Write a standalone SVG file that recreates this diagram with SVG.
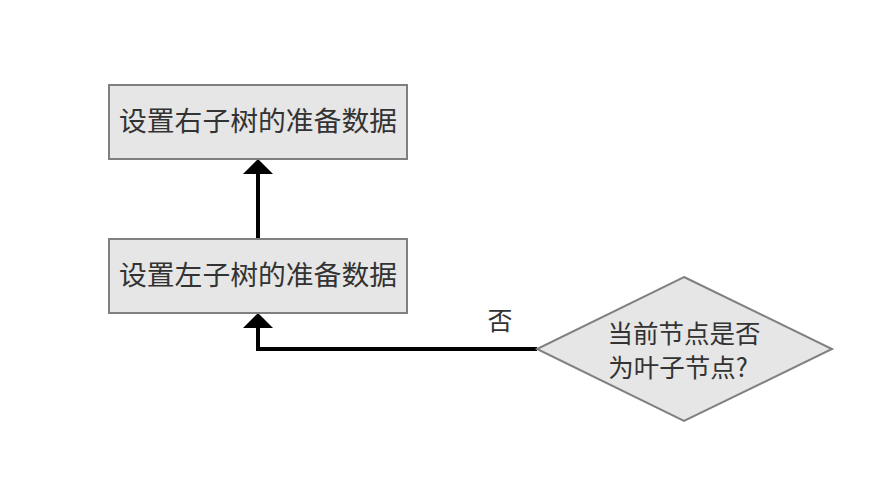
<svg xmlns="http://www.w3.org/2000/svg" width="894" height="482" viewBox="0 0 894 482">
<style>
.box{fill:#e6e6e6;stroke:#808080;stroke-width:2}
.t{font-family:"Noto Sans CJK SC","Liberation Sans",sans-serif;fill:#333333;text-anchor:middle;dominant-baseline:central}
.edge{fill:none;stroke:#000000;stroke-width:4}
.head{fill:#000000}
</style>
<rect width="894" height="482" fill="#ffffff"/>
<g id="connectors">
<path class="edge" d="M258,239 L258,172"/>
<path class="head" d="M243,174 L258,159 L273,174 Z"/>
<path class="edge" d="M537,349 L258,349 L258,326"/>
<path class="head" d="M243,328 L258,313 L273,328 Z"/>
<text class="t" x="500" y="319" font-size="25">否</text>
</g>
<g id="node-right">
<rect class="box" x="109" y="85" width="298" height="74"/>
<text class="t" x="258" y="119" font-size="27.8">设置右子树的准备数据</text>
</g>
<g id="node-left">
<rect class="box" x="109" y="239" width="298" height="74"/>
<text class="t" x="258" y="273" font-size="27.8">设置左子树的准备数据</text>
</g>
<g id="node-decision">
<path class="box" d="M684,277 L832,349 L684,421 L537,349 Z"/>
<text class="t" x="684" y="331" font-size="25.5">当前节点是否</text>
<text class="t" x="678" y="365" font-size="25.5">为叶子节点?</text>
</g>
</svg>
